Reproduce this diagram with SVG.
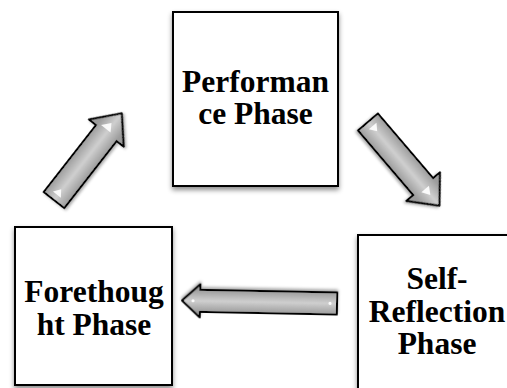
<svg xmlns="http://www.w3.org/2000/svg" width="507" height="388" viewBox="0 0 507 388">
  <style>
    .box { fill: #ffffff; stroke: #000000; stroke-width: 2; filter: url(#boxShadow); }
    .label { font-family: "Liberation Serif", "Times New Roman", "DejaVu Serif", serif; font-weight: bold; font-size: 31.5px; fill: #000000; text-anchor: middle; }
    .arrow { stroke: #000000; stroke-width: 2; stroke-linejoin: round; filter: url(#arrowShadow); }
    .glint { fill: #ffffff; opacity: 0.9; }
  </style>
  <defs>
    <filter id="boxShadow" x="-10%" y="-10%" width="120%" height="125%">
      <feDropShadow dx="0" dy="3" stdDeviation="2.5" flood-color="#000000" flood-opacity="0.45"/>
    </filter>
    <filter id="arrowShadow" x="-20%" y="-20%" width="140%" height="140%">
      <feDropShadow dx="0" dy="2" stdDeviation="1.5" flood-color="#000000" flood-opacity="0.35"/>
    </filter>
    <!-- gradients run across the shaft, in each arrow's local frame -->
    <linearGradient id="shadeDiag" gradientUnits="userSpaceOnUse" x1="0" y1="-13" x2="0" y2="13">
      <stop offset="0" stop-color="#9c9c9c"/>
      <stop offset="0.5" stop-color="#cfcfcf"/>
      <stop offset="1" stop-color="#9c9c9c"/>
    </linearGradient>
    <linearGradient id="shadeFlat" gradientUnits="userSpaceOnUse" x1="0" y1="-11" x2="0" y2="11">
      <stop offset="0" stop-color="#9c9c9c"/>
      <stop offset="0.5" stop-color="#cfcfcf"/>
      <stop offset="1" stop-color="#9c9c9c"/>
    </linearGradient>
    <path id="diagArrow" d="M0,-13 L85,-13 L85,-22 L110,0 L85,22 L85,13 L0,13 Z"/>
  </defs>

  <!-- connectors -->
  <g id="connectors">
    <g id="arrow-forethought-performance" transform="translate(54,200) rotate(-52)">
      <use href="#diagArrow" class="arrow" fill="url(#shadeDiag)"/>
      <polygon class="glint" points="6,-6 13,-1 6,4"/>
      <polygon class="glint" points="88,-9 96,-2 88,3"/>
    </g>
    <g id="arrow-performance-selfreflection" transform="translate(368,122) rotate(49.5)">
      <use href="#diagArrow" class="arrow" fill="url(#shadeDiag)"/>
      <polygon class="glint" points="6,-6 13,-1 6,4"/>
      <polygon class="glint" points="88,-5 96,0 88,5"/>
    </g>
    <g id="arrow-selfreflection-forethought" transform="translate(337,303.5) rotate(181.1)">
      <path class="arrow" fill="url(#shadeFlat)" d="M0,-11 L137,-11 L137,-16.5 L155,0 L137,16.5 L137,11 L0,11 Z"/>
      <circle class="glint" cx="7" cy="0" r="1.6"/>
      <circle class="glint" cx="144" cy="0" r="1.6"/>
    </g>
  </g>

  <!-- nodes -->
  <g id="node-performance">
    <rect class="box" x="173" y="12" width="165" height="174"/>
    <text class="label" x="255.5" y="92">Performan</text>
    <text class="label" x="255.5" y="124">ce Phase</text>
  </g>
  <g id="node-forethought">
    <rect class="box" x="15" y="227" width="157" height="158"/>
    <text class="label" x="94" y="302">Forethoug</text>
    <text class="label" x="94" y="335">ht Phase</text>
  </g>
  <g id="node-selfreflection">
    <rect class="box" x="358" y="235" width="162" height="160"/>
    <text class="label" x="437" y="289">Self-</text>
    <text class="label" x="437" y="322">Reflection</text>
    <text class="label" x="437" y="354">Phase</text>
  </g>
</svg>
